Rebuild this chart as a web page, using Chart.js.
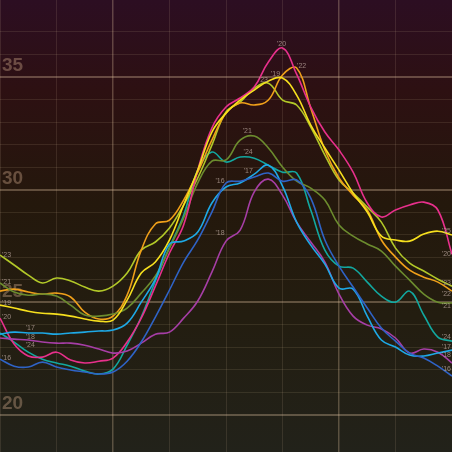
<!DOCTYPE html>
<html><head><meta charset="utf-8">
<script src="https://cdn.jsdelivr.net/npm/chart.js@4.4.1/dist/chart.umd.min.js"></script>
<style>html,body{margin:0;padding:0;background:#241a10;overflow:hidden}#wrap{width:452px;height:452px;position:relative}</style>
</head><body><div id="wrap"><canvas id="c" width="452" height="452"></canvas></div>
<script>
const categories = ['1','2','3','4','5','6','7','8','9','10','11','12','13','14','15','16','17','18','19','20','21','22','23','24','25','26','27','28','29','30','31','32','33'];
const seriesNames = ["'16","'17","'18","'19","'20","'21","'22","'23","'24"];
const yTickLabels = [20, 25, 30, 35];

const s16 = [22.48,22.17,22.13,22.35,22.13,22.00,21.91,21.82,21.91,22.39,23.24,24.35,25.55,26.79,27.77,29.01,30.30,30.38,30.56,30.74,30.38,30.43,29.63,27.77,26.61,25.68,24.75,23.86,23.28,22.75,22.53,22.17,21.73];
const s17 = [23.59,23.68,23.64,23.64,23.59,23.64,23.68,23.73,23.77,24.08,25.01,26.03,27.59,27.72,28.12,29.41,30.12,30.30,30.69,31.09,30.16,28.56,27.54,26.70,25.63,25.59,24.39,23.33,23.02,22.66,22.62,22.75,22.88];
const s18 = [23.42,23.37,23.33,23.24,23.19,23.19,23.10,22.93,22.75,22.84,23.19,23.59,23.68,24.30,25.06,26.34,27.72,28.21,29.90,30.47,29.76,28.56,27.68,26.79,25.37,24.39,23.99,23.82,23.42,22.75,22.93,22.79,22.31];
const s19 = [24.88,24.75,24.61,24.52,24.48,24.39,24.26,24.17,24.21,25.10,26.30,26.79,27.77,29.32,30.87,32.56,33.40,33.98,34.42,34.82,34.96,34.20,32.87,31.85,30.87,29.85,29.01,27.94,27.77,27.72,28.03,28.16,27.99];
const s20 = [24.30,23.15,22.62,22.57,22.79,22.44,22.31,22.39,22.53,23.24,24.30,25.72,27.19,28.43,30.87,32.74,33.67,34.07,34.56,35.67,36.29,35.13,33.67,32.56,31.76,30.78,29.41,28.79,29.10,29.32,29.45,29.10,27.14];
const s21 = [25.86,25.46,25.32,25.37,25.28,24.88,24.44,24.39,24.48,24.75,25.41,26.17,27.41,28.74,30.30,31.27,31.32,32.20,32.38,31.85,31.01,30.38,30.07,29.54,28.43,27.94,27.59,27.28,26.61,25.99,25.37,25.01,24.97];
const s22 = [25.50,25.59,25.46,25.37,25.41,25.24,24.57,24.26,24.39,25.32,27.32,28.48,28.65,29.54,30.78,32.20,33.40,33.85,33.76,33.98,35.09,35.40,33.62,31.76,30.52,29.76,29.10,27.77,27.01,26.43,26.12,25.90,25.50];
const s23 = [27.10,26.66,26.21,25.86,26.08,25.95,25.68,25.50,25.72,26.30,27.32,27.68,28.30,29.32,30.52,31.98,33.45,33.89,34.51,34.73,33.98,33.76,32.78,31.54,30.43,29.85,29.23,28.56,27.41,26.74,26.39,26.03,25.72];
const s24 = [23.64,23.24,22.79,22.48,22.31,22.17,21.95,21.82,22.04,23.10,24.35,25.95,27.45,28.87,30.87,31.67,31.23,31.45,31.40,31.09,30.78,30.74,29.10,27.32,26.61,26.52,25.90,25.28,25.01,25.50,24.44,23.46,23.28];

const seriesValues = [s16, s17, s18, s19, s20, s21, s22, s23, s24];
const seriesColors = ['#2f63c6','#1ea9e6','#a63ea6','#f7e01e','#e8308c','#6c8c2e','#f0a01a','#b2c828','#12a8a0'];

// label placement: [point index, dx, dy, align, text]
const labelSpots = [
  [[0,2,-1,'left',"'16"],[16,-6,-2,'center',"'16"],[32,-1,-7,'right',"'16"]],
  [[2,2,-5,'center',"'17"],[18,-6,-3,'center',"'17"],[32,-1,-3,'right',"'17"]],
  [[2,2,-3,'center',"'18"],[16,-6,-8,'center',"'18"],[32,-1,-8,'right',"'18"]],
  [[0,2,-2,'left',"'19"],[20,-7,-4,'center',"'19"],[32,-1,-4,'right',"'25"]],
  [[0,2,-1,'left',"'20"],[20,-1,-4,'center',"'20"],[32,-1,0,'right',"'20"]],
  [[0,2,-1,'left',"'21"],[18,-7,-5,'center',"'21"],[32,-1,3,'right',"'21"]],
  [[21,5,-2,'center',"'22"],[32,-1,3,'right',"'22"]],
  [[0,2,0,'left',"'23"],[19,-5,-3,'center',"'23"],[32,-1,-3,'right',"'23"]],
  [[2,2,-7,'center',"'24"],[17,8,-5,'center',"'24"],[32,-1,-4,'right',"'24"]]
];

const bgPlugin = {
  id:'bg',
  beforeDraw(chart){
    const c = chart.ctx, h = chart.height, w = chart.width;
    const g = c.createLinearGradient(0,0,0,h);
    g.addColorStop(0,'rgb(44,14,34)');
    g.addColorStop(0.2,'rgb(45,16,18)');
    g.addColorStop(0.45,'rgb(36,24,12)');
    g.addColorStop(0.7,'rgb(35,29,16)');
    g.addColorStop(1,'rgb(34,34,26)');
    c.save(); c.fillStyle = g; c.fillRect(0,0,w,h); c.restore();
  }
};

const labelPlugin = {
  id:'seriesLabels',
  afterDatasetsDraw(chart){
    const c = chart.ctx;
    c.save();
    c.font = '7px "Liberation Sans", Arial, sans-serif';
    c.fillStyle = 'rgba(190,170,160,0.75)';
    c.textBaseline = 'middle';
    labelSpots.forEach((spots, si) => {
      const meta = chart.getDatasetMeta(si);
      spots.forEach(([idx, dx, dy, align, text]) => {
        const p = meta.data[idx];
        if (!p) return;
        let x = p.x + dx;
        if (align === 'left') x = chart.chartArea.left + dx;
        if (align === 'right') x = chart.chartArea.right + dx;
        c.textAlign = align;
        c.fillText(text, x, p.y + dy);
      });
    });
    c.restore();
  }
};

const datasets = seriesValues.map((vals, i) => ({
  label: seriesNames[i],
  data: vals,
  borderColor: seriesColors[i],
  backgroundColor: seriesColors[i],
  borderWidth: 1.6,
  pointRadius: 0,
  tension: 0.4,
  fill: false
}));

function zeroPad(s){ s.paddingTop = 0; s.paddingBottom = 0; s.paddingLeft = 0; s.paddingRight = 0; }

new Chart(document.getElementById('c'), {
  type: 'line',
  data: { labels: categories, datasets },
  options: {
    responsive: false,
    animation: false,
    devicePixelRatio: 1,
    layout: { padding: 0 },
    plugins: { legend: { display: false }, tooltip: { enabled: false } },
    scales: {
      x: {
        offset: false,
        ticks: { display: false, autoSkip: false },
        grid: {
          drawTicks: false,
          color: ctx => {
            const i = ctx.index;
            if (i % 4 !== 0) return 'rgba(0,0,0,0)';
            if (i === 8 || i === 24) return 'rgba(225,195,160,0.30)';
            return 'rgba(225,195,160,0.13)';
          },
          lineWidth: ctx => (ctx.index === 8 || ctx.index === 24) ? 1.5 : 1
        },
        border: { display: false },
        afterFit: s => { s.height = 0; zeroPad(s); }
      },
      y: {
        min: 18.36,
        max: 38.42,
        ticks: {
          stepSize: 1,
          autoSkip: false,
          mirror: true,
          padding: 2,
          labelOffset: -11,
          callback: v => yTickLabels.includes(v) ? String(v) : '',
          font: { family: '"Liberation Sans", Arial, sans-serif', weight: 'bold', size: 19 },
          color: 'rgba(195,160,130,0.42)'
        },
        grid: {
          drawTicks: false,
          color: ctx => {
            const v = ctx.tick ? ctx.tick.value : 0;
            if (Math.abs(v - Math.round(v)) > 1e-6) return 'rgba(0,0,0,0)';
            if (Math.round(v) % 5 === 0) return 'rgba(225,195,160,0.33)';
            return 'rgba(225,195,160,0.12)';
          },
          lineWidth: ctx => {
            const v = ctx.tick ? ctx.tick.value : 0;
            return (Math.round(v) % 5 === 0) ? 2 : 1;
          }
        },
        border: { display: false },
        afterFit: s => { s.width = 0; zeroPad(s); }
      }
    }
  },
  plugins: [bgPlugin, labelPlugin]
});
</script>
</body></html>
